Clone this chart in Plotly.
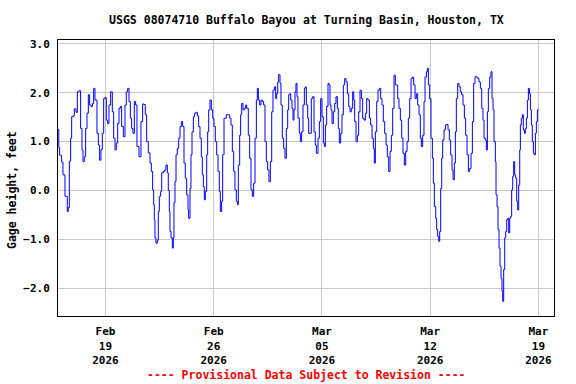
import pandas as pd
import plotly.graph_objects as go

title_text = "USGS 08074710 Buffalo Bayou at Turning Basin, Houston, TX"
y_axis_label = "Gage height, feet"
footer_text = "---- Provisional Data Subject to Revision ----"

start_time = "2026-02-15 00:00"
# hours after start_time
hours = [
    22.5, 23.5, 24.8, 27.9, 30.0, 33.1, 36.7, 38.3, 39.9, 41.9, 43.5, 46.1, 47.6, 50.2, 52.3, 54.9,
    57.4, 59.5, 61.1, 63.1, 65.2, 67.3, 69.4, 71.4, 73.5, 75.6, 77.6, 79.7, 82.8, 84.9, 86.9, 89.0,
    91.1, 93.2, 95.2, 97.3, 99.4, 101.4, 104.0, 106.6, 108.7, 110.8, 112.8, 114.9, 117.0, 119.0,
    121.1, 123.7, 126.3, 128.3, 130.4, 132.5, 134.6, 136.6, 138.7, 140.8, 142.8, 144.9, 148.0,
    151.1, 153.7, 155.8, 157.8, 159.9, 162.5, 165.1, 167.2, 169.2, 170.8, 171.8, 172.8, 174.4,
    176.5, 178.0, 179.6, 181.6, 183.2, 185.8, 187.9, 189.9, 192.0, 193.5, 195.1, 196.1, 197.7,
    199.8, 201.3, 202.3, 203.9, 205.5, 207.5, 209.6, 211.7, 213.7, 215.8, 217.9, 219.9, 222.0,
    224.1, 225.1, 227.2, 228.7, 230.3, 232.4, 234.4, 236.5, 238.6, 240.6, 242.7, 244.8, 246.3,
    247.9, 249.4, 251.0, 253.1, 254.6, 256.2, 258.2, 260.3, 262.4, 264.4, 266.5, 268.6, 270.7,
    272.7, 274.3, 276.3, 277.9, 280.0,
    283.6, 286.7, 288.8, 290.8, 292.9, 295.0, 297.0, 299.1, 300.7, 302.2, 304.3, 305.8, 307.4,
    309.5, 311.5, 313.6, 315.2, 317.7, 319.8, 321.9, 323.9, 326.0, 328.1, 330.2, 331.7, 333.3,
    335.3, 337.4, 339.5, 341.5, 343.6, 345.7, 347.7, 349.8, 351.9, 354.0, 356.0, 358.1, 360.2,
    361.7, 363.3, 364.8, 366.9, 368.4, 370.5, 372.6, 374.7, 376.7, 378.8, 380.4, 381.9, 383.5,
    385.5, 387.1, 388.6, 390.2, 391.7, 393.3, 394.8, 396.9, 398.5, 400.5, 402.6, 404.7, 406.2,
    407.8, 409.9, 411.4,
    415.5, 417.6, 419.7, 421.7, 423.3, 425.9, 428.0, 430.0, 432.1, 434.2, 435.7, 437.3, 439.3,
    441.4, 443.0, 444.5, 446.1, 447.6, 449.7, 451.8, 453.8, 455.9, 457.4, 459.0, 461.1, 463.1,
    465.2, 467.3, 469.4, 471.4, 473.5, 475.6, 477.6, 479.7, 481.3, 482.8, 484.9, 487.0, 489.0,
    491.1, 493.2, 495.2, 497.3, 499.4, 501.4, 503.5, 505.6, 507.6, 509.7, 511.8, 513.3, 514.9,
    517.0, 519.0, 521.1, 523.2, 525.2, 527.3, 529.4, 531.5, 533.5, 535.6, 537.7, 539.7, 541.8,
    543.9, 545.9,
    547.5, 549.6, 551.6, 553.7, 555.8, 557.8, 559.9, 562.0, 564.1, 566.1, 568.2, 570.3, 572.3,
    574.4, 576.5, 578.5, 580.6, 582.7, 584.7, 586.3, 588.4, 590.4, 592.0, 594.1, 595.6, 597.2,
    599.2, 601.3, 603.4, 604.9, 606.5, 608.6, 610.1, 611.7, 613.2, 614.8, 616.3, 617.9, 619.4,
    621.5, 623.6, 625.6, 627.7, 629.8, 631.8, 633.9, 635.5, 637.5, 639.1, 640.6, 642.7, 644.8,
    646.8, 648.9, 651.0, 653.1, 655.1, 657.2, 659.3, 661.3, 663.4, 665.5, 667.5, 669.6,
    671.7, 673.8, 675.8, 677.9, 680.0, 682.0, 683.6, 685.7, 687.2, 688.8, 690.3, 692.4, 694.4,
    696.0, 697.6, 699.1, 701.2, 702.2, 703.8, 705.3, 706.9, 708.4, 710.0, 711.5, 712.6, 714.1,
    715.7, 717.2, 718.8, 720.3, 721.9, 723.4, 725.0, 726.5, 728.1, 729.6, 731.2, 732.7, 734.3,
    735.9, 737.4, 739.0, 740.0, 741.5, 743.1, 744.6, 746.2, 747.7, 749.3, 750.9, 752.4, 754.0,
    755.5, 757.1, 758.6, 760.2, 761.7, 763.3, 764.8, 766.4, 768.5,
]
gage_height_ft = [
    1.25, 0.88, 0.72, 0.58, 0.32, -0.12, -0.43, -0.35, 0.60, 1.07, 1.51, 1.53, 1.67, 1.60, 2.02, 2.04,
    1.27, 0.83, 0.59, 0.69, 1.27, 1.58, 1.96, 1.75, 1.72, 1.78, 2.09, 1.85, 1.17, 0.93, 0.62, 0.84,
    1.17, 1.88, 1.90, 1.44, 1.37, 1.75, 2.02, 1.61, 1.07, 0.83, 0.97, 1.37, 1.68, 1.72,
    1.31, 1.10, 1.75, 2.02, 2.09, 1.82, 1.48, 1.27, 1.17, 1.82, 1.75, 0.90, 0.69,
    1.41, 1.77, 1.76, 1.55, 1.00, 0.77, 0.56, 0.39, 0.01, -0.29, -0.60, -0.97, -1.08,
    -1.02, -0.43, -0.12, -0.02, 0.36, 0.39, 0.42, 0.52, 0.36, 0.00, -0.43, -0.84, -0.97,
    -1.18, -0.97, -0.25, 0.18, 0.73, 0.86, 1.07, 1.31, 1.41, 1.31, 0.56, 0.25, -0.09,
    -0.40, -0.57, 0.04, 0.73, 1.20, 1.51, 1.58, 1.60, 1.53, 1.31, 1.07, 0.69, 0.32,
    0.08, -0.19, -0.02, 0.73, 1.20, 1.65, 1.85, 1.65, 1.48, 1.31, 1.00, 0.73, 0.39,
    -0.02, -0.43, -0.22, 0.73, 1.48,
    1.55, 1.55, 1.48, 1.34, 0.80, 0.39, 0.01, -0.22, -0.29, 0.52, 1.13, 1.55, 1.78,
    1.65, 1.68, 1.75, 1.68, 1.13, 0.66, 0.01, -0.12, 0.15, 1.07, 1.85, 2.09, 1.85,
    1.75, 1.85, 1.82, 1.75, 1.00, 0.59, 0.42, 0.18, 0.59, 1.61, 2.05, 2.12, 1.88,
    1.98, 2.22, 2.37, 2.19, 1.75, 1.07, 0.86, 0.66, 1.27, 1.65, 1.96, 1.98, 1.85,
    1.68, 1.44, 1.65, 2.02, 2.19, 1.92, 1.48, 1.17, 1.00, 1.20, 1.75, 2.09, 2.12,
    1.75, 1.48, 1.17,
    1.88, 1.92, 1.20, 0.93, 0.76, 1.07, 1.41, 1.88, 1.51, 0.97, 0.90, 1.34, 1.72,
    2.19, 2.16, 1.75, 1.65, 1.37, 1.61, 1.78, 1.92, 1.68, 1.27, 0.97, 1.17, 1.55,
    2.16, 2.29, 2.22, 1.98, 1.72, 1.61, 1.68, 2.02, 1.85, 1.41, 1.00, 1.13, 1.61,
    2.05, 1.88, 1.48, 1.44, 1.58, 1.88, 1.85, 1.48, 1.34, 1.07, 0.86, 0.56, 1.20,
    1.82, 2.05, 2.09, 1.88, 1.75, 1.41, 1.17, 0.93, 0.69, 0.39, 0.80, 1.13, 1.68,
    2.36, 2.16,
    2.16, 1.88, 1.68, 1.44, 1.07, 0.76, 0.52, 0.80, 1.00, 1.48, 1.88, 2.29, 2.32,
    2.16, 1.88, 1.98, 1.75, 1.55, 1.07, 0.90, 1.13, 1.82, 2.32, 2.43, 2.50, 2.16,
    1.88, 1.07, 0.66, 0.15, -0.33, -0.57, -0.80, -0.94, -1.04, -0.84, 0.04, 0.66, 1.03,
    1.24, 1.34, 1.35, 1.24, 1.03, 0.73, 0.42, 0.22, 0.56, 1.20, 1.88, 2.19, 2.12,
    2.02, 1.96, 1.75, 1.48, 1.13, 0.73, 0.39, 0.45, 0.76, 1.41, 2.19, 2.33,
    2.32, 2.29, 2.22, 2.09, 1.68, 1.44, 1.07, 1.03, 0.83, 1.61, 2.09, 2.32, 2.43,
    1.88, 1.65, 1.00, 0.59, -0.09, -0.33, -0.80, -1.18, -1.55, -1.80, -2.06, -2.27, -1.62,
    -0.97, -0.84, -0.60, -0.57, -0.87, -0.57, -0.53, 0.01, 0.29, 0.59, 0.32, 0.25, -0.22,
    -0.40, 0.11, 0.83, 1.34, 1.48, 1.55, 1.24, 1.17, 1.27, 1.48, 1.85, 2.09, 1.98,
    1.65, 1.34, 1.00, 0.76, 0.73, 1.17, 1.41, 1.65, 1.65,
]

tick_dates = ["2026-02-19", "2026-02-26", "2026-03-05", "2026-03-12", "2026-03-19"]
tick_labels = ["Feb<br>19<br>2026", "Feb<br>26<br>2026", "Mar<br>05<br>2026",
               "Mar<br>12<br>2026", "Mar<br>19<br>2026"]
y_ticks = [-2.0, -1.0, 0.0, 1.0, 2.0, 3.0]

times = pd.Timestamp(start_time) + pd.to_timedelta(hours, unit="h")

FONT = "DejaVu Sans Mono"

fig = go.Figure()
fig.add_trace(go.Scatter(
    x=times, y=gage_height_ft, mode="lines",
    line=dict(color="#0000ff", width=1, shape="hv"),
    showlegend=False, hoverinfo="x+y",
))

fig.update_layout(
    width=576, height=384,
    margin=dict(l=58, r=22, t=40, b=68),
    paper_bgcolor="white", plot_bgcolor="white",
    font=dict(family=FONT, size=11, color="black", weight="bold"),
    title=dict(text=title_text, x=0.532, xanchor="center", y=1 - 20 / 384, yanchor="middle",
               font=dict(family=FONT, size=11.5, color="black", weight="bold")),
    xaxis=dict(
        range=[pd.Timestamp(start_time) + pd.Timedelta(hours=22.3),
               pd.Timestamp(start_time) + pd.Timedelta(hours=792.2)],
        tickvals=pd.to_datetime(tick_dates), ticktext=tick_labels,
        showgrid=True, gridcolor="#c8c8c8", gridwidth=1,
        showline=True, linecolor="black", linewidth=1, mirror=True,
        ticks="", zeroline=False, ticklabelstandoff=5,
        tickfont=dict(family=FONT, size=11, color="black", weight="bold"),
    ),
    yaxis=dict(
        range=[-2.57, 3.08],
        tickvals=y_ticks, tickformat=".1f",
        showgrid=True, gridcolor="#c8c8c8", gridwidth=1,
        showline=True, linecolor="black", linewidth=1, mirror=True,
        ticks="", zeroline=False, ticklabelstandoff=5,
        tickfont=dict(family=FONT, size=11, color="black", weight="bold"),
    ),
    annotations=[
        dict(text=y_axis_label, textangle=-90, xref="paper", yref="paper",
             x=(12 - 58) / 496, y=(316 - 190) / 276, xanchor="center", yanchor="middle",
             showarrow=False, font=dict(family=FONT, size=11.5, color="black", weight="bold")),
        dict(text=footer_text, xref="paper", yref="paper",
             x=0.5, y=(316 - 375) / 276, xanchor="center", yanchor="middle",
             showarrow=False, font=dict(family=FONT, size=11.5, color="#ff0000", weight="bold")),
    ],
)

fig.write_html(
    "out.html",
    config={"responsive": False, "displayModeBar": False},
    post_script="document.body.style.margin='0';document.body.style.padding='0';",
)
